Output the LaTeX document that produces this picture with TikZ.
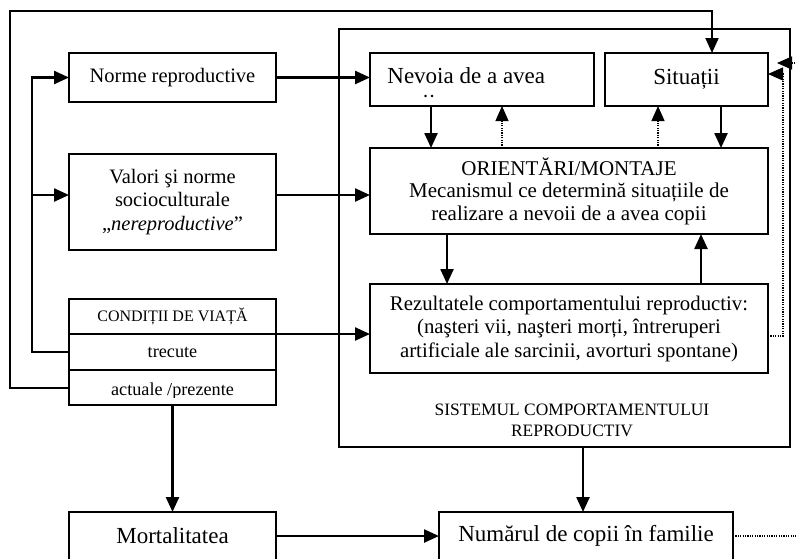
\documentclass[tikz,border=0pt]{standalone}
\usepackage{fontspec}
\setmainfont{Liberation Serif}
\usetikzlibrary{arrows.meta}
\newcommand\fA{\fontsize{11.5}{13.5}\selectfont}
\newcommand\fB{\fontsize{10.5}{11.3}\selectfont}
\newcommand\fC{\fontsize{10.25}{11.75}\selectfont}
\newcommand\fD{\fontsize{9.1}{11}\selectfont}
\newcommand\fE{\fontsize{8}{10}\selectfont}
\newcommand\fF{\fontsize{8.7}{10.5}\selectfont}
\tikzset{
  box/.style={draw, line width=0.9pt, inner sep=0pt, outer sep=0pt, align=center},
  arr/.style={line width=1.2pt, -{Triangle[length=7.5pt,width=6.5pt]}},
  dotarr/.style={line width=0.6pt, dash pattern=on 0.6pt off 0.6pt, -{Triangle[length=7.5pt,width=6.5pt]}},
  lbl/.style={inner sep=0pt, align=center}
}
\begin{document}
\begin{tikzpicture}[x=0.5pt,y=-0.5pt]
\useasboundingbox (0,0) rectangle (796,558);
\clip (0,0) rectangle (796,558);

% system box
\node[box, minimum width=225.5pt, minimum height=209pt] (system) at (564.5,238) {};
\node[lbl, font=\fF] (syslbl) at (572,420) {SISTEMUL COMPORTAMENTULUI\\REPRODUCTIV};

% left boxes
\node[box, minimum width=103.5pt, minimum height=24.5pt, font=\fC] (norme) at (172.5,77.5) {Norme reproductive};
\node[box, minimum width=103.5pt, minimum height=48pt, font=\fC] (valori) at (172.5,202)
  {Valori şi norme\\socioculturale\\„\textit{nereproductive}”};
\node[box, minimum width=103.5pt, minimum height=17.5pt, font=\fE] (hdr) at (172.5,316.5) {CONDIȚII DE VIAȚĂ};
\node[box, minimum width=103.5pt, minimum height=18pt, font=\fD] (trec) at (172.5,352) {trecute};
\node[box, minimum width=103.5pt, minimum height=17.5pt] (act) at (172.5,387.5) {};
\begin{scope}
  \clip (70,371) rectangle (275,397);
  \node[lbl, anchor=base, font=\fD] (actt) at (172.5,395) {actuale /prezente};
\end{scope}

% inner boxes
\node[box, minimum width=112pt, minimum height=26.5pt] (nevoia) at (482,79.5) {};
\node[lbl, anchor=base west, font=\fA] (nevt) at (387,83) {Nevoia de a avea};
\begin{scope}
  \clip (372,55) rectangle (592,97.5);
  \node[lbl, anchor=base west, font=\fA] (nevc) at (389,110) {copii};
\end{scope}
\node[box, minimum width=81.5pt, minimum height=26.5pt, font=\fA] (situatii) at (686.5,79.5) {Situații};
\node[box, minimum width=199pt, minimum height=43pt, font=\fB] (orient) at (569,191)
  {ORIENTĂRI/MONTAJE\\Mecanismul ce determină situațiile de\\realizare a nevoii de a avea copii};
\node[box, minimum width=199pt, minimum height=44.5pt, font=\fontsize{10.4}{11.75}\selectfont] (rez) at (569,328.5)
  {Rezultatele comportamentului reproductiv:\\(naşteri vii, naşteri morți, întreruperi\\artificiale ale sarcinii, avorturi spontane)};

% bottom boxes
\node[box, minimum width=103.5pt, minimum height=24pt, font=\fA] (mort) at (172.5,536) {Mortalitatea};
\node[box, minimum width=147pt, minimum height=24pt, font=\fA] (numar) at (586,536) {Numărul de copii în familie};

% helper coordinates
\coordinate (vy) at (0,195);
\coordinate (bx) at (32,0);
\coordinate (tl) at (10,11);
\coordinate (tr) at (712,11);
\coordinate (c1) at (431,0);
\coordinate (c2) at (502,0);
\coordinate (c3) at (658,0);
\coordinate (c4) at (721,0);
\coordinate (c5) at (447,0);
\coordinate (c6) at (701,0);
\coordinate (ry) at (0,336);
\coordinate (rx) at (783,0);
\coordinate (sy) at (0,74);
\coordinate (fb) at (777,63);
\coordinate (fx) at (830,0);
\coordinate (sx) at (583,0);

% left side connectors
\draw[arr] (norme.east) -- (norme.east -| nevoia.west);
\draw[arr] (valori.east |- vy) -- (orient.west |- vy);
\draw[arr] (trec.north east) -- (rez.west |- trec.north east);
\draw[arr] (trec.west) -- (bx |- trec.west) |- (norme.west);
\draw[arr] (bx |- vy) -- (valori.west |- vy);
\draw[arr, line width=1pt] (act.west) -| (tl) -- (tr) -- (tr |- situatii.north);

% inner connectors
\draw[arr] (nevoia.south -| c1) -- (orient.north -| c1);
\draw[dotarr] (orient.north -| c2) -- (nevoia.south -| c2);
\draw[dotarr] (orient.north -| c3) -- (situatii.south -| c3);
\draw[arr] (situatii.south -| c4) -- (orient.north -| c4);
\draw[arr] (orient.south -| c5) -- (rez.north -| c5);
\draw[arr] (rez.north -| c6) -- (orient.south -| c6);
\draw[dotarr] (rez.east |- ry) -- (rx |- ry) -- (rx |- sy) -- (situatii.east |- sy);

% bottom connectors
\draw[arr] (act.south) -- (mort.north);
\draw[arr] (system.south -| sx) -- (numar.north -| sx);
\draw[arr] (mort.east) -- (numar.west);
\draw[dotarr] (numar.east) -- (fx |- numar.east) -- (fx |- fb) -- (fb);
\end{tikzpicture}
\end{document}
